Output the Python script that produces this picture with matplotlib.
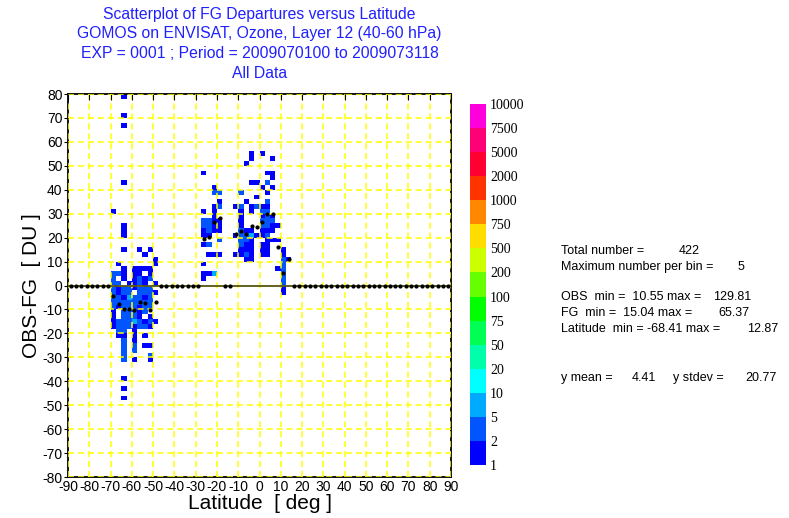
import numpy as np
import matplotlib
matplotlib.use("Agg")
import matplotlib.pyplot as plt
from matplotlib.colors import ListedColormap, BoundaryNorm

plt.rcParams['font.family'] = ['Liberation Sans', 'DejaVu Sans']
plt.rcParams['axes.unicode_minus'] = False

# ---- data ----
# counts per (2.5 deg x 2 DU) bin; '.' empty, digit = number of obs
left_lat0 = -70.0          # first column of the southern block, step 2.5 deg
left_dep = [14, 12, 10, 8, 6, 4, 2, 0, -2, -4, -6, -8, -10, -12, -14, -16, -18,
            -20, -22, -24, -26, -28, -30, -32]
left_rows = [
    "..1..1.1.",
    "......1..",
    "........1",
    ".1......1",
    "..1.1111.",
    "221.11.1.",
    "2.1.1212.",
    "22.1121.1",
    "21221222.",
    "2122.2221",
    "22152212.",
    "22222222.",
    "21222122.",
    "1.22212..",
    "1.2221.1.",
    "122252121",
    "12221221.",
    ".22.1....",
    ".11.1.1..",
    "..2.1....",
    "..2.2.11.",
    "..2.2....",
    "..2....2.",
    "..2.1..1.",
]

mid_lat0 = -30.0           # first column of the tropical block
mid_dep = [54, 52, 50, 46, 44, 42, 40, 38, 36, 34, 32, 30, 28, 26, 24, 22, 20,
           18, 16, 14, 12, 10, 8, 6, 4, 2, 0, -2, -4]
mid_rows = [
    "..........1.1.....",
    "..........1...1...",
    ".........1........",
    ".1...........11...",
    "..............1...",
    "..........11.2....",
    "...1........1.1...",
    "...22...2....1....",
    "...........1......",
    "....1....1...2....",
    "...12..12.1211....",
    ".1.1....1.1.22....",
    "...1....1...121...",
    ".2211...1...222...",
    ".2211...1...2211..",
    ".1211...211.111...",
    ".11....1225112....",
    "....2...221..111..",
    ".12.....211.11....",
    "........111.11..1.",
    "..111..1121.11..1.",
    ".........11.....21",
    ".1..............2.",
    "...............12.",
    ".115............2.",
    ".1..............2.",
    "................2.",
    "................1.",
    "................1.",
]

# isolated single observations (lat bin start, dep bin start)
iso_lat = [-65, -65, -65, -65, -70, -65, -65, -65, -65, -65, -65]
iso_dep = [78, 70, 66, 42, 30, 24, 22, 20, -40, -44, -48]

# mean departure per latitude bin (bins not listed have no data -> 0)
mean_lat = [-70, -67.5, -65, -62.5, -60, -57.5, -55, -52.5, -50,
            -27.5, -25, -22.5, -20, -12.5, -10, -7.5, -5, -2.5, 0, 2.5, 5,
            7.5, 10, 12.5]
mean_dep = [-4.4, -7.9, -10.0, -9.8, -10.2, -6.8, -7.2, -10.2, -6.8,
            19.4, 20.1, 26.7, 28.1, 21.4, 22.9, 21.5, 24.8, 24.6, 26.7, 29.9, 29.9,
            15.9, 5.3, 11.0]

levels = [1, 2, 5, 10, 20, 50, 75, 100, 200, 500, 750, 1000, 2000, 5000, 7500, 10000]
level_colors = ['#0000ff', '#0055ff', '#00aaff', '#00ffff', '#00ffaa', '#00ff55',
                '#00ff00', '#66ff00', '#ccff00', '#ffdd00', '#ff8800', '#ff3300',
                '#ff0033', '#ff0077', '#ff00dd']

title_lines = ["Scatterplot of FG Departures versus Latitude",
               "GOMOS on ENVISAT, Ozone, Layer 12 (40-60 hPa)",
               "EXP = 0001 ; Period = 2009070100 to 2009073118",
               "All Data"]

# ---- build the binned field ----
lat_edges = np.arange(-90, 90.01, 2.5)
dep_edges = np.arange(-80, 80.01, 2)
H = np.zeros((len(dep_edges) - 1, len(lat_edges) - 1))


def put(lat, dep, n):
    i = int(round((lat + 90) / 2.5))
    j = int(round((dep + 80) / 2))
    H[j, i] += n


for lat0, deps, rows in [(left_lat0, left_dep, left_rows), (mid_lat0, mid_dep, mid_rows)]:
    for d, row in zip(deps, rows):
        for k, ch in enumerate(row):
            if ch != '.':
                put(lat0 + 2.5 * k, d, int(ch))
for la, d in zip(iso_lat, iso_dep):
    put(la, d, 1)

Hm = np.ma.masked_equal(H, 0)
cmap = ListedColormap(level_colors)
norm = BoundaryNorm(levels, cmap.N)

centers = lat_edges[:-1] + 1.25
means = np.zeros_like(centers)
for la, m in zip(mean_lat, mean_dep):
    means[int(round((la + 90) / 2.5))] = m

# ---- figure ----
W, Hpx = 789, 518
fig = plt.figure(figsize=(W / 100, Hpx / 100), dpi=100)
ax = fig.add_axes([68 / W, 1 - 477 / Hpx, 383 / W, 383 / Hpx])

mesh = ax.pcolormesh(lat_edges, dep_edges, Hm, cmap=cmap, norm=norm, zorder=1)
ax.set_xlim(-90, 90)
ax.set_ylim(-80, 80)
ax.set_xticks(np.arange(-90, 91, 10))
ax.set_yticks(np.arange(-80, 81, 10))
ax.grid(True, color='#ffff00', linestyle=(0, (4, 2.5)), linewidth=1.1, zorder=2)
ax.set_axisbelow(False)
ax.axhline(0, color='#55551a', linewidth=1.3, zorder=3)
ax.plot(centers, means, 'o', color='black', markersize=2.0, zorder=4, linestyle='none')

ax.tick_params(axis='x', which='both', direction='in', length=4, top=True, bottom=False,
               labelsize=10, pad=2)
ax.tick_params(axis='y', direction='out', length=3, labelsize=10, pad=1)
for s in ax.spines.values():
    s.set_linewidth(1.3)
ax.set_xlabel("Latitude  [ deg ]", fontsize=15, labelpad=0)
ax.set_ylabel("OBS-FG  [ DU ]", fontsize=15, labelpad=1)

for k, line in enumerate(title_lines):
    fig.text(259.5 / W, 1 - (14 + 19.7 * k) / Hpx, line, ha='center', va='center',
             fontsize=11.3, color='#2020ff')

# colour bar
cax = fig.add_axes([470 / W, 1 - 465 / Hpx, 16 / W, 361 / Hpx])
cb = fig.colorbar(mesh, cax=cax, ticks=levels, spacing='uniform')
cb.outline.set_visible(False)
cax.tick_params(length=0, pad=3)
cax.set_yticklabels([str(v) for v in levels], family='Liberation Serif', fontsize=10)

# statistics text
fs = 9
def t(x, y, s):
    fig.text(x / W, 1 - y / Hpx, s, ha='left', va='center', fontsize=fs)

t(561, 251, "Total number =")
t(679, 251, "422")
t(561, 267, "Maximum number per bin =")
t(738, 267, "5")
t(561, 297, "OBS  min =  10.55 max =")
t(713, 297, "129.81")
t(561, 313, "FG  min =  15.04 max =")
t(718, 313, "65.37")
t(561, 329, "Latitude  min = -68.41 max =")
t(747, 329, "12.87")
t(561, 378, "y mean =")
t(632, 378, "4.41")
t(673, 378, "y stdev =")
t(745, 378, "20.77")

fig.savefig("out.png", dpi=100)
